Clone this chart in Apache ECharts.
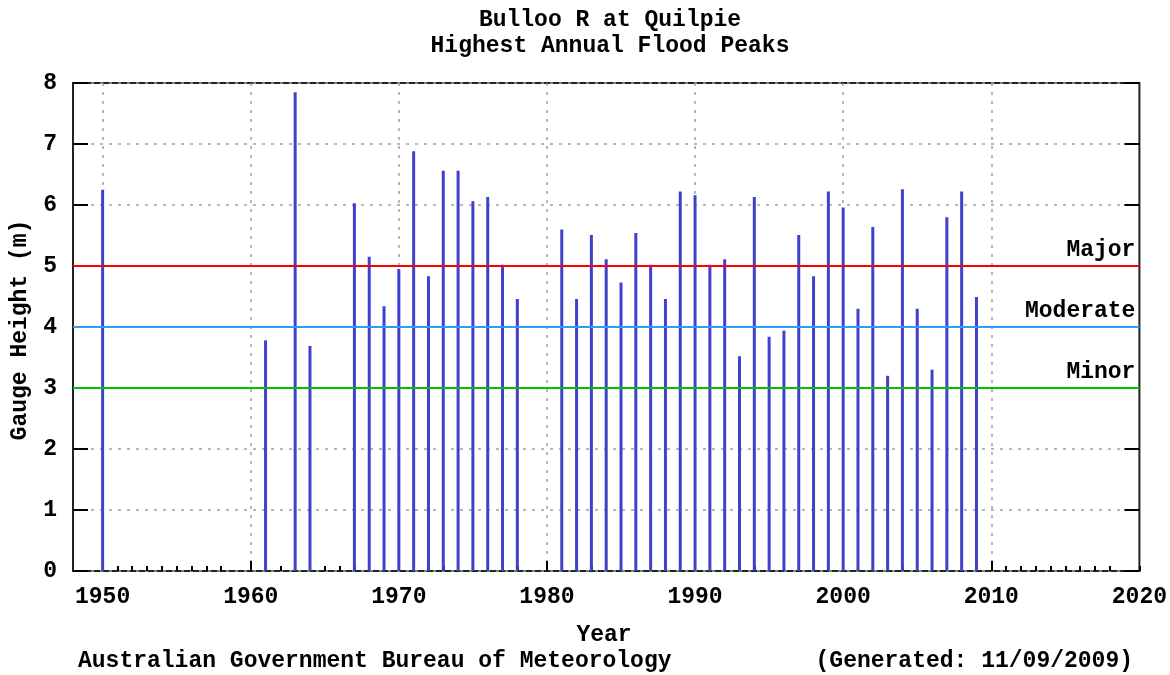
<!DOCTYPE html>
<html>
<head>
<meta charset="utf-8">
<title>Bulloo R at Quilpie</title>
<script src="https://cdn.jsdelivr.net/npm/echarts@6/dist/echarts.min.js"></script>
<style>
  html, body { margin: 0; padding: 0; background: #ffffff; }
  #chart { width: 1170px; height: 675px; }
</style>
</head>
<body>
<div id="chart"></div>
<script>
// Highest annual flood peak per year (gauge height, metres)
const years = [1950, 1961, 1963, 1964, 1967, 1968, 1969, 1970, 1971, 1972,
               1973, 1974, 1975, 1976, 1977, 1978, 1981, 1982, 1983, 1984,
               1985, 1986, 1987, 1988, 1989, 1990, 1991, 1992, 1993, 1994,
               1995, 1996, 1997, 1998, 1999, 2000, 2001, 2002, 2003, 2004,
               2005, 2006, 2007, 2008, 2009];
const peaks = [6.25, 3.78, 7.85, 3.69, 6.03, 5.15, 4.34, 4.95, 6.88, 4.83,
               6.56, 6.56, 6.06, 6.13, 5.02, 4.46, 5.60, 4.46, 5.51, 5.11,
               4.73, 5.54, 5.02, 4.46, 6.22, 6.16, 5.02, 5.11, 3.52, 6.13,
               3.84, 3.94, 5.51, 4.83, 6.22, 5.96, 4.30, 5.64, 3.20, 6.26,
               4.30, 3.30, 5.80, 6.22, 4.49];

// Flood classification levels
const levelNames = ['Minor', 'Moderate', 'Major'];
const levelHeights = [3, 4, 5];
const levelColors = ['#00c000', '#3399ff', '#ff0000'];

// Axis extents and tick labels
const yearMin = 1948, yearMax = 2020;
const yTicks = [0, 1, 2, 3, 4, 5, 6, 7, 8];

const FONT = 'Liberation Mono';
const CSS_FONT = 'bold 23px "Liberation Mono"';
const txt = { fontFamily: FONT, fontWeight: 'bold', fontSize: 23, color: '#000' };

const yearCats = [];
for (let y = yearMin; y <= yearMax; y++) yearCats.push(String(y));

const gridDash = { color: '#a0a0a0', width: 1.5, type: [3, 6] };

const chart = echarts.init(document.getElementById('chart'), null, { renderer: 'canvas' });

chart.setOption({
  animation: false,
  backgroundColor: '#ffffff',
  title: {
    text: 'Bulloo R at Quilpie\nHighest Annual Flood Peaks',
    left: 605, top: 2, textAlign: 'center',
    textStyle: Object.assign({}, txt, { lineHeight: 26 })
  },
  grid: {
    left: 73, right: 28, top: 83, bottom: 104,
    show: true, borderColor: '#222', borderWidth: 2, backgroundColor: '#fff'
  },
  xAxis: [
    {
      // year ticks, labels and vertical grid lines
      type: 'category', data: yearCats, boundaryGap: false, position: 'bottom',
      axisLine: { show: false },
      axisTick: {
        show: true, inside: true, length: 5,
        lineStyle: { color: '#000', width: 2 },
        interval: (i, v) => (+v) % 10 !== 9 && (+v) !== yearMin
      },
      axisLabel: Object.assign({
        interval: (i, v) => (+v) % 10 === 0,
        margin: 15
      }, txt),
      splitLine: {
        show: true, interval: (i, v) => (+v) % 10 === 0 && v != yearMin && v != yearMax,
        lineStyle: gridDash
      }
    },
    {
      // decade ticks
      type: 'category', data: yearCats, boundaryGap: false, position: 'bottom',
      axisLine: { show: false },
      axisTick: {
        show: true, inside: true, length: 10,
        lineStyle: { color: '#000', width: 2 },
        interval: (i, v) => (+v) % 10 === 0 && v != yearMin && v != yearMax
      },
      axisLabel: { show: false },
      splitLine: { show: false }
    },
    {
      // numeric year scale used to place the peaks
      type: 'value', min: yearMin, max: yearMax, show: false
    }
  ],
  yAxis: [
    {
      type: 'value', min: yTicks[0], max: yTicks[yTicks.length - 1], interval: 1,
      position: 'left',
      axisLine: { show: false },
      axisTick: { show: true, inside: true, length: 15, lineStyle: { color: '#000', width: 2 } },
      axisLabel: Object.assign({
        margin: 16,
        formatter: v => yTicks.indexOf(v) >= 0 ? String(v) : ''
      }, txt),
      splitLine: { show: true, lineStyle: gridDash }
    },
    {
      type: 'value', min: yTicks[0], max: yTicks[yTicks.length - 1], interval: 1,
      position: 'right',
      axisLine: { show: false },
      axisTick: { show: true, inside: true, length: 15, lineStyle: { color: '#000', width: 2 } },
      axisLabel: { show: false },
      splitLine: { show: false }
    }
  ],
  series: [
    {
      type: 'bar',
      xAxisIndex: 2, yAxisIndex: 0,
      barWidth: 3,
      itemStyle: { color: '#4040cc' },
      data: years.map((y, i) => [y, peaks[i]]),
      markLine: {
        silent: true, symbol: 'none', animation: false,
        data: levelHeights.map((h, i) => ({
          yAxis: h, name: levelNames[i],
          lineStyle: { color: levelColors[i], width: 2, type: 'solid' }
        })),
        label: Object.assign({
          show: true, position: 'insideEndTop', distance: [4, 4],
          formatter: p => p.name
        }, txt)
      }
    }
  ],
  graphic: [
    {
      type: 'text', x: 20, y: 330, rotation: Math.PI / 2,
      style: { text: 'Gauge Height (m)', align: 'center', verticalAlign: 'middle',
               font: CSS_FONT, fill: '#000' }
    },
    {
      type: 'text', x: 604, y: 635,
      style: { text: 'Year', align: 'center', verticalAlign: 'middle',
               font: CSS_FONT, fill: '#000' }
    },
    {
      type: 'text', x: 78, y: 661,
      style: { text: 'Australian Government Bureau of Meteorology', align: 'left', verticalAlign: 'middle',
               font: CSS_FONT, fill: '#000' }
    },
    {
      type: 'text', x: 1133, y: 661,
      style: { text: '(Generated: 11/09/2009)', align: 'right', verticalAlign: 'middle',
               font: CSS_FONT, fill: '#000' }
    }
  ]
});
</script>
</body>
</html>
